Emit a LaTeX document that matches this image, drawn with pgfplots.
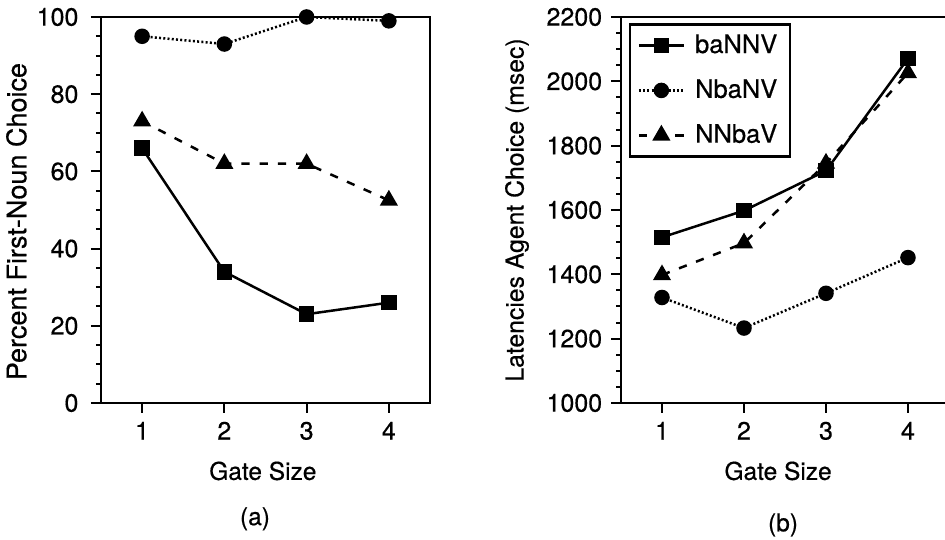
\documentclass[border=0pt]{standalone}
\usepackage{fontspec}
\setmainfont{TeX Gyre Heros}[FakeBold=0.5]
\usepackage{pgfplots}
\pgfplotsset{compat=1.18}

\pgfplotsset{
  panel/.style={
    scale only axis,
    anchor=south west,
    height=154.4pt,
    xmin=0.5, xmax=4.5,
    xtick={1,2,3,4},
    tick pos=left,
    tick align=outside,
    major tick length=4pt,
    minor tick length=2pt,
    minor y tick num=3,
    axis line style={line width=1pt},
    every tick/.style={line width=0.8pt, black},
    /pgf/number format/assume math mode=true,
    /pgf/number format/1000 sep={},
    tick label style={font=\fontsize{10}{11}\selectfont},
    xlabel style={font=\fontsize{9.8}{11}\selectfont},
    clip=false,
  },
  sA/.style={black, line width=1pt, solid, mark=square*, mark size=2.6pt, mark options={solid}},
  sB/.style={black, line width=1pt, dash pattern=on 0.8pt off 0.9pt, mark=*, mark size=2.6pt, mark options={solid}},
  sC/.style={black, line width=1pt, dash pattern=on 3.3pt off 4pt, mark=triangle*, mark size=3.2pt, mark options={solid}},
}

\begin{document}
\begin{tikzpicture}
\useasboundingbox (0,0) rectangle (378pt,216pt);

% (a) choice percentages
\begin{axis}[panel,
  at={(40.4pt,54.8pt)},
  width=131.6pt,
  ymin=0, ymax=100,
  ytick distance=20,
  yticklabel style={xshift=-1.5pt},
  xlabel={Gate Size},
  ylabel={Percent First-Noun Choice},
  xlabel style={at={(axis description cs:0.492,-0.176)}, anchor=center},
  ylabel style={at={(axis description cs:-0.257,0.47)}, anchor=center, font=\fontsize{10.8}{12}\selectfont},
]
\addplot[sA] coordinates {(1,66)(2,34)(3,23)(4,26)};
\addplot[sB] coordinates {(1,95)(2,93)(3,100)(4,99)};
\addplot[sC] coordinates {(1,73)(2,62)(3,62)(4,52.5)};
\node[font=\fontsize{9.8}{11}\selectfont] at (axis description cs:0.468,-0.30) {(a)};
\end{axis}

% (b) latencies
\begin{axis}[panel,
  at={(248.4pt,54.8pt)},
  width=131.2pt,
  ymin=1000, ymax=2200,
  ytick distance=200,
  xlabel={Gate Size},
  ylabel={Latencies Agent Choice (msec)},
  xlabel style={at={(axis description cs:0.479,-0.176)}, anchor=center},
  ylabel style={at={(axis description cs:-0.317,0.5)}, anchor=center, font=\fontsize{9.9}{11}\selectfont},
  legend style={at={(axis description cs:0.024,0.984)}, anchor=north west,
    draw=black, line width=1pt, font=\fontsize{10.2}{12}\selectfont,
    inner xsep=3pt, inner ysep=2pt, row sep=5pt, column sep=2pt},
  legend cell align=left,
  legend image code/.code={\draw[mark repeat=2,mark phase=2] plot coordinates {(0pt,0pt) (9pt,0pt) (18pt,0pt)};},
]
\addplot[sA] coordinates {(1,1515)(2,1598)(3,1722)(4,2071)};
\addlegendentry{baNNV}
\addplot[sB] coordinates {(1,1328)(2,1233)(3,1341)(4,1452)};
\addlegendentry{NbaNV}
\addplot[sC] coordinates {(1,1398)(2,1497)(3,1745)(4,2026)};
\addlegendentry{NNbaV}
\node[font=\fontsize{9.8}{11}\selectfont] at (axis description cs:0.494,-0.316) {(b)};
\end{axis}
\end{tikzpicture}
\end{document}
